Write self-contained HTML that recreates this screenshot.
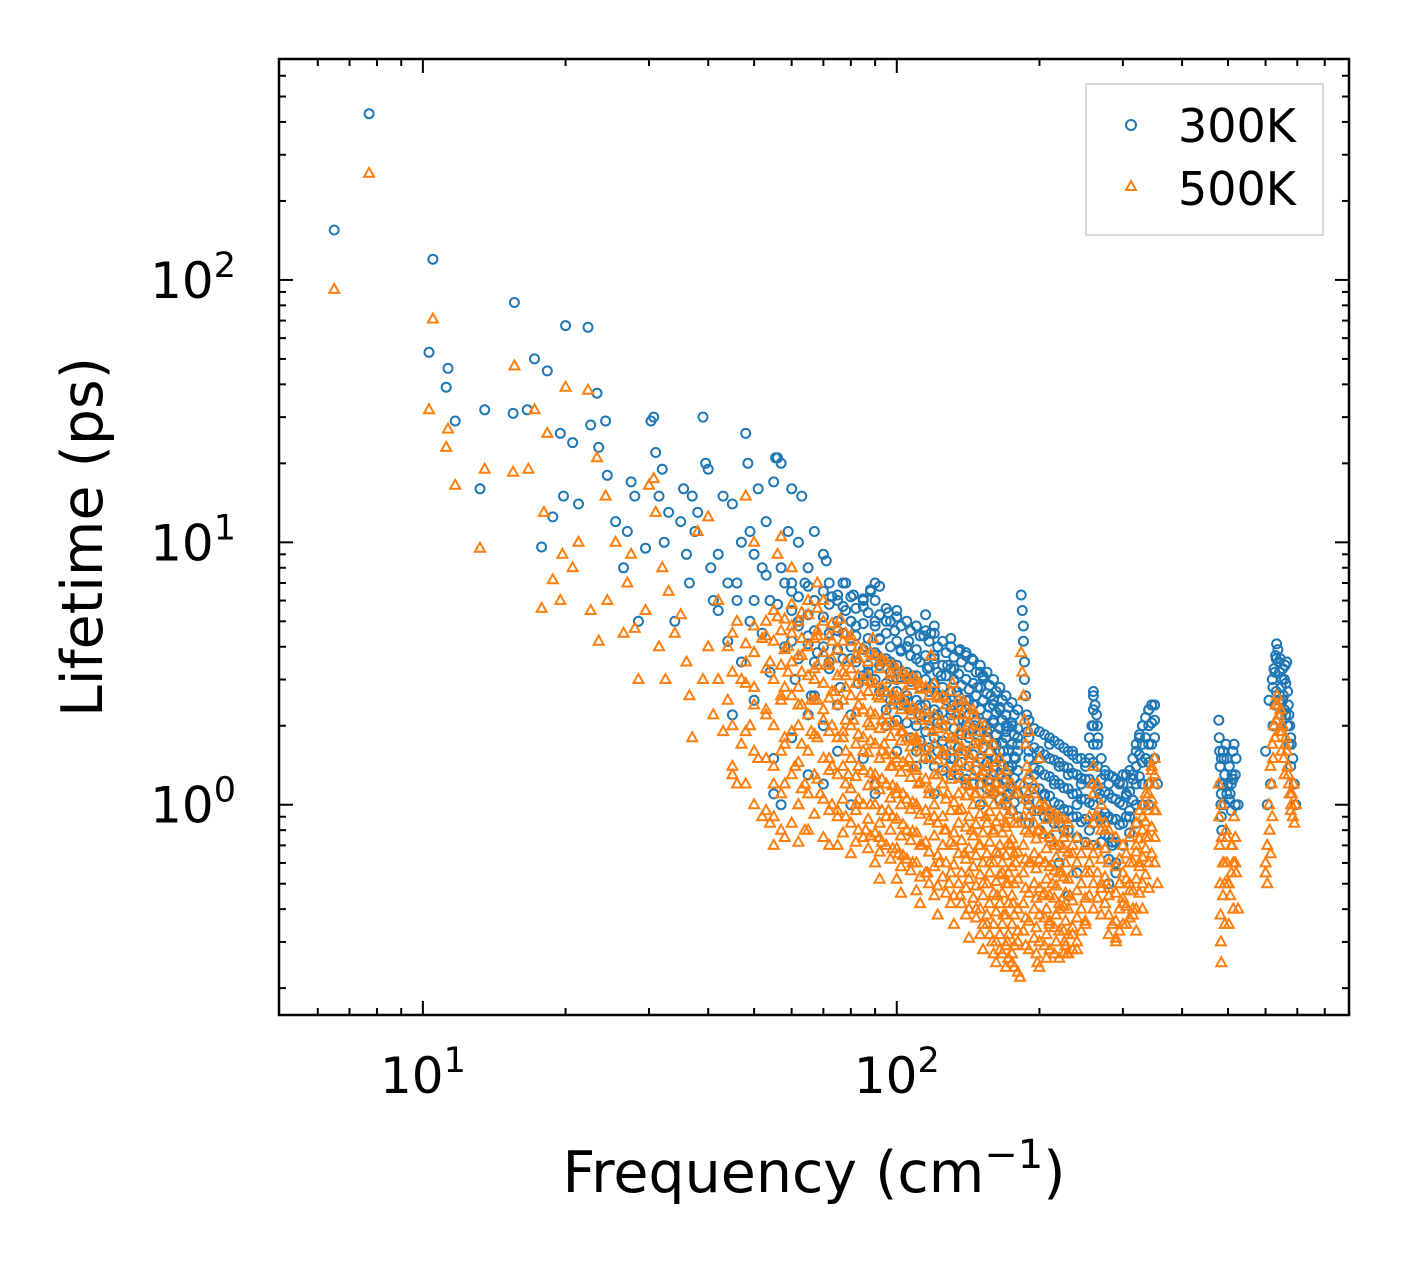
<!DOCTYPE html>
<html><head><meta charset="utf-8">
<style>html,body{margin:0;padding:0;background:#fff}svg{display:block}text{font-family:"DejaVu Sans","Liberation Sans",sans-serif}</style>
</head><body>
<svg id="chart" width="1408" height="1265" viewBox="0 0 1408 1265" xmlns="http://www.w3.org/2000/svg">
<rect width="1408" height="1265" fill="#fff"/>
<g id="marks300"></g>
<g id="marks500"></g>
<g id="axes"></g>
<rect x="279" y="59" width="1070" height="956" fill="none" stroke="#000" stroke-width="2.5"/>
<text x="102" y="537" font-size="57" text-anchor="middle" transform="rotate(-90 102 537)">Lifetime (ps)</text>
<text x="814" y="1192" font-size="57" text-anchor="middle">Frequency (cm<tspan dy="-24" font-size="40">−1</tspan><tspan dy="24">)</tspan></text>
<g>
<rect x="1086" y="84" width="237" height="151" fill="#fff" stroke="#ccc" stroke-width="1.5"/>
<circle cx="1131" cy="125" r="5" fill="none" stroke="#1f77b4" stroke-width="2"/>
<text x="1178" y="142" font-size="46">300K</text>
<polygon points="1131,181 1136,190 1126,190" fill="none" stroke="#ff7f0e" stroke-width="2"/>
<text x="1178" y="205" font-size="46">500K</text>
</g>
</svg>
<script>
const freq300 = [6.5,7.7,10.3,10.5,11.2,11.3,11.7,13.2,13.5,15.5,15.6,16.6,17.2,17.8,18.3,18.8,19.5,19.8,20,20.7,21.3,22.3,22.6,23.3,23.5,24.3,24.5,25.5,26.5,27,27.5,28,28.5,29.5,30.3,30.7,31,31.5,32,32.3,33,34,35,35.5,36,36.5,37,37.5,38,39,39.5,40,40.5,41,42,43,44,45,46,47,48,48.5,49,50,51,52,53,54,55,55.5,56,57,58,59,60,62,63,65,67,70,72,75,78,80,85,88,90,92,95,100,105,115,118,120,130,140,150,160,170,180,
42,44,46,47,49,50,52,53,54,56,57,58,60,61,62,64,65,66,67,68,70,71,72,73,75,76,77,78,80,81,82,83,85,86,87,88,90,91,92,94,96,97,99,100,102,104,106,108,110,112,114,116,118,120,122,124,126,128,130,132,134,136,138,140,142,144,146,148,150,152,155,158,160,162,165,168,170,172,175,178,180,182,
45,50,55,55,57,60,65,70,75,80,85,90,95,100,110,120,130,140,150,160,
190,195,200,205,210,215,220,225,230,235,240,245,250,255,258,260,262,264,266,268,270,275,280,285,290,295,300,305,310,315,320,325,330,335,340,345,350,355,
183,184,185,185,186,186,187,188,189,190,187,
478,479,480,481,482,483,485,490,495,500,505,510,515,520,525,
600,610,620,625,630,633,637,640,645,650,655,660,665,670,675,680,685,690,695,615,605,
200,220,240,260,280,230];
const life300 = [155,430,53,120,39,46,29,16,32,31,82,32,50,9.6,45,12.5,26,15,67,24,14,66,28,37,23,29,18,12,8,11,17,15,5,9.5,29,30,22,15,19,10,13,5,12,16,9,7,15,11,13,30,20,19,8,6,9,15,7,14,6,10,26,20,11,9,16,8,12,6,17,21,21,20,7,11,16,10,15,8,11,9,7,6,7,5,6,6.5,7,6.8,5,5.5,4,5.3,4.5,4.8,4.3,3.8,3.2,2.4,2,1.8,
5.5,4.2,7,3.5,5,6,4.5,7.5,3.2,5.8,8,4,6.5,3,5,7,4.4,2.6,6,3.8,5.2,8.5,3.3,6.2,4.6,2.8,7,5.5,3.6,6.3,4.8,2.9,5.7,4,3.2,6.6,5,3.7,4.3,2.7,5.4,3.5,4.6,3,3.9,2.5,4.2,3.1,3.6,2.4,4.4,3.3,2.8,3.7,2.2,3.1,2.6,3.4,2.3,3.3,2.7,3.9,2.1,3,2.5,3.6,2,2.8,2.3,3.1,1.9,2.6,2.1,1.7,2.3,1.6,1.9,1.4,2,1.5,1.7,1.2,
2.2,2.5,1.5,1.1,1.0,1.8,1.3,2,1.6,2.2,1.5,1.2,2,1.6,1.4,1.1,1.5,1.2,1.0,1.3,
1.6,1.3,1.5,1.1,1.7,1.2,1.4,0.9,1.3,1.6,1.0,1.2,1.4,0.8,2.0,2.7,2.4,2.2,1.8,1.1,0.9,1.3,1.2,0.7,0.55,1.2,1.3,1.1,0.9,1.3,1.6,1.8,2.0,1.5,2.3,2.4,2.4,1.2,
6.3,5.5,4.8,4.2,3.5,3,2.6,2.2,1.9,1.0,0.85,
2.1,1.8,1.6,1.4,1.2,1.0,0.8,1.5,1.7,1.2,1.1,1.3,1.7,1.5,1.0,
1.6,2.5,3.0,3.3,3.7,4.1,3.9,3.5,3.6,3.0,2.6,3.4,3.5,2.4,2.0,1.7,1.5,1.2,1.0,1.2,1.0,
0.8,0.6,0.55,0.7,0.5,0.45];
const groups300 = [
 [60,[7,5.5,4.2]],[65,[6.8,5.3,4.1,2.2]],[70,[6.5,5.2,4.0,1.2]],[75,[6.3,5.0,3.9,2.4]],[80,[6.2,5.0,4.0,1.0]],[85,[6.1,4.9,3.9,3.1]],
 [90,[6,4.8,3.8,3.0,1.1]],[95,[5.6,4.5,3.6,2.9,2.3]],[100,[5.2,4.2,3.4,2.7,2.1]],[105,[5.0,4.0,3.2,2.6,2.05]],[110,[4.8,3.9,3.1,2.5,2.0,1.6]],
 [115,[4.6,3.7,3.0,2.4,1.9,1.5]],[120,[4.5,3.6,2.9,2.3,1.8,1.4]],[125,[4.2,3.4,2.8,2.25,1.75,1.35]],[130,[4.0,3.3,2.7,2.2,1.7,1.3]],
 [135,[3.85,3.15,2.6,2.1,1.65,1.3]],[140,[3.7,3.0,2.5,2.0,1.6,1.25]],[145,[3.55,2.9,2.4,1.95,1.55,1.2]],[150,[3.4,2.8,2.3,1.9,1.5,1.2]],
 [155,[3.2,2.65,2.2,1.8,1.45,1.15]],[160,[3.0,2.5,2.05,1.7,1.4,1.1]],[165,[2.8,2.35,1.95,1.6,1.3,1.05]],[170,[2.6,2.2,1.8,1.5,1.25,1.0]],
 [175,[2.45,2.05,1.7,1.4,1.15,0.95]],[180,[2.3,1.95,1.6,1.35,1.1,0.9]],[190,[2.1,1.8,1.5,1.25,1.05,0.85]],[200,[1.9,1.6,1.35,1.15,0.95,0.8]],
 [210,[1.8,1.5,1.28,1.08,0.9,0.75]],[220,[1.7,1.45,1.2,1.0,0.85,0.7]],[230,[1.6,1.38,1.15,0.95,0.8]],[240,[1.5,1.3,1.1,0.9,0.75]],[250,[1.45,1.25,1.05,0.88,0.72]],
 [260,[2.6,2.3,2.0,1.7,1.45,1.2,1.0,0.85]],[270,[1.5,1.25,1.05,0.88,0.72]],[280,[1.3,1.1,0.9,0.75,0.62]],[290,[1.25,1.05,0.88,0.72,0.6]],[300,[1.2,1.0,0.85,0.7]],
 [310,[1.35,1.12,0.95,0.78]],[320,[1.7,1.4,1.2,1.0,0.85]],[330,[2.0,1.7,1.45,1.2,1.0]],[340,[2.3,2.0,1.7,1.45,1.2,1.0]],[350,[2.4,2.1,1.8,1.5]],
 [484,[1.5,1.1,0.9]],[488,[1.6,1.2]],[492,[1.3,1.0]],[497,[1.5,1.1]],[503,[1.4,1.05]],[508,[1.2,0.95]],[512,[1.6,1.25]],[518,[1.3,1.0]],
 [622,[2.8,2.0]],[628,[3.2,2.4]],[632,[3.6,2.7]],[642,[3.2,2.5]],[648,[2.8,2.2]],[652,[3.3,2.5]],[658,[3.0,2.3]],[662,[2.9,2.2]],[668,[2.7,2.0]],[672,[2.2,1.7]],[678,[1.8,1.4]]
];
const fill300 = [
 [62,[6.2,4.8,3.6]],[67,[6.0,4.6,3.5,2.6]],[72,[5.8,4.5,3.5]],[77,[5.7,4.5,3.6]],[82,[5.6,4.4,3.5]],[87,[5.4,4.3,3.4]],[92,[5.3,4.25,3.4,2.7]],
 [97,[5.0,4.0,3.2,2.5]],[102,[4.8,3.85,3.05,2.4]],[107,[4.6,3.7,2.95,2.3,1.8]],[112,[4.4,3.5,2.8,2.2,1.75]],[117,[4.2,3.35,2.7,2.1,1.65]],
 [122,[4.0,3.2,2.6,2.05,1.6]],[127,[3.8,3.1,2.5,2.0,1.55]],[132,[3.65,3.0,2.4,1.95,1.5]],[137,[3.5,2.85,2.3,1.85,1.45]],[142,[3.35,2.75,2.2,1.8,1.4]],
 [147,[3.2,2.6,2.1,1.72,1.35]],[152,[3.05,2.5,2.05,1.65,1.3]],[157,[2.85,2.35,1.95,1.58,1.25]],[162,[2.7,2.25,1.85,1.5,1.2]],[167,[2.5,2.1,1.72,1.42,1.15]],
 [172,[2.35,1.98,1.62,1.35,1.1]],[177,[2.2,1.85,1.52,1.26,1.02]],[195,[1.95,1.65,1.38,1.15,0.95]],[205,[1.85,1.55,1.3,1.08,0.9]],[215,[1.75,1.48,1.24,1.02,0.85]],
 [225,[1.65,1.4,1.16,0.96,0.8]],[235,[1.55,1.32,1.1,0.9]],[245,[1.5,1.26,1.05,0.86]],[255,[1.8,1.5,1.25,1.02]],[265,[2.0,1.7,1.4,1.15]],[275,[1.35,1.12,0.93,0.77]],
 [285,[1.28,1.06,0.88,0.72]],[295,[1.22,1.02,0.84]],[305,[1.3,1.08,0.9]],[315,[1.5,1.25,1.04]],[325,[1.85,1.55,1.28]],[335,[2.15,1.8,1.5]],[345,[2.4,2.05,1.7]]
];
const freq500 = [6.5,7.7,10.3,10.5,11.2,11.3,11.7,13.2,13.5,15.5,15.6,16.7,17.2,17.8,18,18.3,18.8,19.5,19.7,20,20.7,21.3,22.3,22.6,23.3,23.5,24.3,24.5,25.5,26.5,27,27.5,28,28.5,29.5,30,30.7,31,31.5,32,32.5,33,34,35,36,36.5,37,38,39,40,41,42,43,44,45,46,47,48,49,50,52,53,54,55,56,57,58,59,60,62,64,66,68,70,
40,42,44,46,47,48,50,51,52,53,54,55,56,57,58,59,60,61,62,63,64,65,66,67,68,69,70,71,72,73,74,75,76,77,78,79,80,81,82,83,84,85,86,87,88,89,90,91,92,93,94,95,96,97,98,99,100,101,102,104,105,106,107,108,110,111,112,113,114,115,116,117,118,119,120,121,122,123,124,125,126,127,128,129,130,131,132,133,134,135,136,137,138,139,140,141,142,143,144,145,146,147,148,149,150,152,153,154,155,156,157,158,159,160,162,163,164,165,166,167,168,170,171,172,174,175,176,178,180,182,
183,184,185,186,187,188,189,190,192,195,198,200,203,206,210,213,216,220,223,226,229,232,235,240,245,250,255,258,262,265,270,275,280,285,290,295,300,305,310,315,320,325,330,335,340,345,350,352,355,205,215,225,235,195,200,190,198,
478,479,480,481,482,483,484,490,495,500,505,510,515,520,525,
600,605,610,615,620,625,630,635,640,645,650,655,660,665,670,675,680,685,690,695,600];
const life500 = [92,255,32,71,23,27,16.5,9.5,19,18.5,47,19,32,5.6,13,26,7.2,6,9,39,8,10,38,5.5,21,4.2,15,6,10,4.5,7,9,4.7,3,5.5,16.5,17.5,13,4,8,3,6.5,4.5,5.3,3.5,2.6,1.8,11,3,12.5,2.2,6,1.9,4,1.4,1.2,3,15,2,10,0.9,5,0.85,0.7,9,10.5,0.75,4,8,1.0,0.8,2.5,7,6,
4,3,2.5,5,1.7,3.5,2.8,1.5,4.3,2.2,3.5,1.2,5.2,2.6,1.8,3.2,4.5,1.4,2.4,3.7,1.2,6,1.9,3,4.6,1.1,2.3,3.4,1.5,4.2,2.7,0.9,5.1,1.8,3.1,1.3,4.4,2.1,1,3.6,2.6,1.6,0.8,3.1,2,4.3,1.2,2.6,0.75,3.5,1.7,2.2,0.95,3,1.4,2.5,1.1,0.65,1.9,2.7,0.8,1.5,2.2,0.6,1.8,1.2,2.9,0.7,1.5,2.3,0.55,1.1,3.7,1.9,0.9,2.6,1.3,0.6,2.1,1.6,0.8,2.4,1.1,0.5,1.8,2.9,0.7,1.4,2.2,0.95,0.45,1.6,2.5,0.65,1.2,2,0.55,1.5,0.8,2.3,1.1,0.4,1.7,0.7,1.3,0.5,2,0.9,0.35,1.4,0.6,1.1,0.3,0.8,1.2,0.45,0.65,0.28,1,0.55,0.38,0.85,0.3,0.5,0.7,0.25,0.42,0.6,0.33,0.22,
3.8,3.2,2.6,2.1,1.7,1.4,1.1,0.9,0.6,0.5,0.8,0.3,0.45,0.6,0.35,0.5,0.7,0.4,0.55,0.3,0.27,0.45,0.32,0.28,0.5,0.35,0.6,1.2,0.9,0.7,0.5,0.8,0.45,0.35,0.3,0.5,0.42,0.35,0.5,0.4,0.7,0.6,0.9,0.75,1.1,1.4,1.3,0.95,0.5,1.0,0.9,0.75,0.65,1.2,1.5,1.9,0.25,
1.2,0.9,0.7,0.5,0.38,0.3,0.25,0.6,0.8,0.5,0.45,0.7,0.9,0.55,0.4,
0.6,0.5,1.0,1.4,1.7,2.0,2.4,2.6,2.2,2.3,1.9,1.5,1.7,1.6,1.3,1.1,1.0,0.9,0.85,1.0,0.55];
const groups500 = [
 [45,[4.5,3.2,2.0,1.3]],[48,[4.1,2.9,1.9,1.2]],[50,[4.8,3.8,2.4,1.6,1.0]],[53,[4.4,3.3,2.3,1.5,0.95]],[55,[5.5,4.2,3.0,2.0,1.4,0.9]],
 [58,[5.1,3.9,2.8,1.7,1.2]],[60,[5.8,4.8,3.5,2.6,1.9,1.3,0.85]],[63,[5.4,4.3,3.2,2.4,1.7,1.15]],[65,[5.3,4.0,3.1,2.2,1.6,1.1,0.8]],
 [68,[5.6,4.4,3.4,2.5,1.8,1.25]],[70,[5.0,3.8,2.9,2.1,1.5,1.05,0.75]],[73,[4.9,3.6,2.7,2.0,1.4,1.0]],[75,[4.7,3.9,3.1,2.4,1.8,1.3,0.95,0.7]],
 [78,[4.5,3.5,2.8,2.1,1.6,1.2,0.9]],[80,[4.2,3.3,2.6,2.0,1.5,1.15,0.85,0.65]],[83,[4.0,3.1,2.4,1.85,1.4,1.05,0.8]],[85,[3.9,3.0,2.3,1.8,1.35,1.0,0.75]],
 [88,[3.8,2.95,2.25,1.75,1.32,1.0,0.76]],[90,[3.7,2.9,2.2,1.7,1.3,1.0,0.78,0.6]],[93,[3.6,2.8,2.1,1.6,1.25,0.95,0.72]],[95,[3.5,2.7,2.0,1.55,1.2,0.9,0.7]],
 [98,[3.4,2.65,2.05,1.55,1.18,0.9,0.68]],[100,[3.3,2.6,2.0,1.5,1.15,0.88,0.68,0.52]],[103,[3.2,2.5,1.9,1.45,1.1,0.84,0.64]],[105,[3.1,2.4,1.8,1.4,1.05,0.8,0.62]],
 [108,[3.05,2.35,1.78,1.38,1.02,0.79,0.6]],[110,[3.0,2.3,1.75,1.35,1.0,0.78,0.6,0.47]],[115,[2.8,2.15,1.65,1.25,0.95,0.72,0.55]],[120,[2.9,2.2,1.7,1.3,1.0,0.76,0.58,0.45]],
 [125,[2.6,2.0,1.55,1.2,0.9,0.7,0.53]],[130,[2.7,2.1,1.6,1.25,0.95,0.72,0.55,0.42]],[135,[2.5,1.9,1.45,1.1,0.85,0.65,0.5]],[140,[2.4,1.85,1.4,1.08,0.82,0.62,0.48,0.38]],
 [145,[2.2,1.7,1.3,1.0,0.76,0.58,0.44]],[150,[2.0,1.55,1.2,0.92,0.7,0.54,0.4,0.32]],[155,[1.8,1.4,1.1,0.85,0.65,0.5,0.38]],[160,[1.7,1.3,1.0,0.78,0.6,0.46,0.35,0.27]],
 [165,[1.5,1.15,0.9,0.7,0.54,0.42,0.32]],[170,[1.35,1.05,0.82,0.64,0.5,0.38,0.29,0.24]],[175,[1.2,0.95,0.74,0.58,0.45,0.35,0.27]],[180,[1.1,0.85,0.66,0.52,0.4,0.3,0.23]],
 [185,[1.2,0.9,0.7,0.55,0.42,0.33]],[190,[1.3,1.0,0.78,0.6,0.46,0.36,0.28]],[195,[1.1,0.85,0.65,0.5,0.4,0.31]],[200,[1.0,0.8,0.62,0.48,0.38,0.3,0.24]],
 [205,[0.98,0.77,0.6,0.46,0.37,0.29]],[210,[0.95,0.75,0.58,0.45,0.36,0.28]],[215,[0.92,0.72,0.56,0.44,0.34,0.27]],[220,[0.9,0.7,0.55,0.42,0.33,0.26]],
 [225,[0.88,0.68,0.53,0.41,0.33,0.27]],[230,[0.85,0.66,0.52,0.4,0.32,0.27]],[240,[0.75,0.6,0.47,0.37,0.3]],[250,[0.7,0.55,0.44,0.36]],
 [260,[1.4,1.1,0.85,0.65,0.5,0.4]],[270,[1.0,0.8,0.62,0.48,0.38]],[280,[0.8,0.6,0.48,0.38,0.32]],[290,[0.75,0.58,0.46,0.36,0.31]],[300,[0.7,0.55,0.44,0.35]],
 [310,[0.75,0.6,0.47,0.37]],[320,[0.85,0.66,0.52,0.4,0.33]],[330,[1.0,0.8,0.63,0.5,0.4]],[340,[1.2,0.95,0.75,0.6,0.48]],[350,[1.5,1.2,0.95,0.75,0.6]],
 [485,[1.0,0.75]],[488,[0.45,0.6]],[492,[0.35,0.5]],[497,[0.6,0.75]],[502,[0.35,0.5]],[508,[0.55,0.7]],[513,[0.4,0.6]],[518,[0.75,0.6]],
 [612,[0.8]],[618,[1.2]],[622,[1.5]],[628,[1.8]],[632,[2.1]],[638,[2.4]],[642,[1.9]],[648,[1.6]],[652,[2.0]],[658,[1.3]],[662,[1.8]],[668,[1.4]],[672,[1.2]],[678,[0.95]],[682,[1.1]],[688,[1.2]],[605,[0.7]],[615,[0.65]],[620,[0.9]]
];
const fill500 = [
 [57,[4.6,3.4,2.5,1.6,1.1,0.8]],[62,[5.0,3.7,2.8,2.0,1.45,1.0,0.72]],[67,[4.3,3.3,2.5,1.85,1.3,0.92]],[72,[4.4,3.4,2.55,1.9,1.35,0.95,0.7]],
 [77,[4.2,3.2,2.5,1.9,1.4,1.05,0.78]],[82,[3.7,2.9,2.25,1.7,1.28,0.95,0.72]],[87,[3.5,2.7,2.05,1.58,1.18,0.88,0.68]],[92,[3.3,2.55,1.95,1.5,1.14,0.85,0.66,0.52]],
 [97,[3.15,2.4,1.82,1.4,1.06,0.8,0.62]],[102,[3.0,2.3,1.75,1.33,1.0,0.76,0.58,0.46]],[107,[2.85,2.2,1.66,1.27,0.96,0.73,0.56]],[112,[2.75,2.1,1.6,1.22,0.92,0.7,0.53,0.42]],
 [117,[2.6,2.0,1.52,1.15,0.87,0.66,0.5]],[122,[2.55,1.95,1.48,1.12,0.85,0.64,0.49,0.38]],[127,[2.4,1.82,1.38,1.05,0.8,0.6,0.46]],[132,[2.35,1.78,1.35,1.02,0.78,0.59,0.45,0.35]],
 [137,[2.2,1.66,1.26,0.96,0.73,0.55,0.42]],[142,[2.05,1.55,1.18,0.9,0.68,0.52,0.4,0.31]],[147,[1.9,1.45,1.1,0.84,0.64,0.49,0.37]],[152,[1.75,1.34,1.02,0.78,0.6,0.45,0.35,0.28]],
 [157,[1.6,1.22,0.94,0.72,0.55,0.42,0.32]],[162,[1.45,1.12,0.86,0.66,0.51,0.39,0.3,0.25]],[167,[1.3,1.0,0.78,0.6,0.46,0.35,0.27]],[172,[1.2,0.92,0.71,0.55,0.42,0.32,0.26]],
 [177,[1.1,0.85,0.65,0.5,0.38,0.29,0.24]],[187,[1.05,0.8,0.62,0.48,0.37,0.29]],[197,[0.95,0.74,0.57,0.44,0.34,0.27]],[207,[0.88,0.68,0.52,0.4,0.32,0.26]],
 [217,[0.82,0.63,0.49,0.38,0.3]],[227,[0.78,0.6,0.46,0.36,0.29]],[235,[0.7,0.55,0.43,0.34,0.28]],[245,[0.65,0.5,0.4,0.33]],[255,[0.9,0.7,0.55,0.45]],
 [265,[1.2,0.9,0.7,0.55,0.44]],[275,[0.85,0.68,0.53,0.42]],[295,[0.62,0.5,0.4,0.33]],[305,[0.65,0.52,0.41]],[315,[0.78,0.6,0.47,0.38]],
 [325,[0.95,0.74,0.58,0.46]],[335,[1.1,0.86,0.68,0.54]],[345,[1.35,1.05,0.82,0.65]]
];
const xMajorTicks = [10,100];
const xMajorLabels = ["1","2"];
const yMajorTicks = [1,10,100];
const yMajorLabels = ["0","1","2"];
const xMinorTicks = [6,7,8,9,20,30,40,50,60,70,80,90,200,300,400,500,600,700,800];
const yMinorTicks = [0.2,0.3,0.4,0.5,0.6,0.7,0.8,0.9,2,3,4,5,6,7,8,9,20,30,40,50,60,70,80,90,200,300,400,500,600];

groups300.concat(fill300).forEach(g=>g[1].forEach(v=>{freq300.push(g[0]);life300.push(v);}));
groups500.concat(fill500).forEach(g=>g[1].forEach(v=>{freq500.push(g[0]);life500.push(v);}));

const L=279,R=1349,T=59,B=1015;
const xMin=Math.log10(4.97), xMax=Math.log10(900);
const yMin=Math.log10(0.158), yMax=Math.log10(695);
function sx(v){return L+(Math.log10(v)-xMin)/(xMax-xMin)*(R-L);}
function sy(v){return B-(Math.log10(v)-yMin)/(yMax-yMin)*(B-T);}
const NS="http://www.w3.org/2000/svg";
function mk(tag,attrs){const e=document.createElementNS(NS,tag);for(const k in attrs)e.setAttribute(k,attrs[k]);return e;}

const g3=document.getElementById('marks300');
for(let i=0;i<freq300.length;i++){
  const c=mk('circle',{cx:sx(freq300[i]).toFixed(1),cy:sy(life300[i]).toFixed(1),r:4.5,fill:'none',stroke:'#1f77b4','stroke-width':2});
  
  
  g3.appendChild(c);
}
const g5=document.getElementById('marks500');
for(let i=0;i<freq500.length;i++){
  const x=sx(freq500[i]), y=sy(life500[i]);
  const p=mk('polygon',{points:`${x.toFixed(1)},${(y-5.5).toFixed(1)} ${(x+5).toFixed(1)},${(y+3.5).toFixed(1)} ${(x-5).toFixed(1)},${(y+3.5).toFixed(1)}`,fill:'none',stroke:'#ff7f0e','stroke-width':2});
  
  
  g5.appendChild(p);
}
const ax=document.getElementById('axes');
function tick(x1,y1,x2,y2,name){
  const l=mk('line',{x1,y1,x2,y2,stroke:'#000','stroke-width':2});
  
  
  ax.appendChild(l);
}
xMajorTicks.forEach((v,i)=>{const x=sx(v);tick(x,B,x,B-14,'x-major-tick');tick(x,T,x,T+14,'x-major-tick');
  const t=mk('text',{x:x,y:1093,'font-size':50,'text-anchor':'middle'});
  t.innerHTML='10<tspan dy="-21" font-size="35">'+xMajorLabels[i]+'</tspan>';
  
  
  ax.appendChild(t);});
xMinorTicks.forEach(v=>{const x=sx(v);tick(x,B,x,B-7,'x-minor-tick');tick(x,T,x,T+7,'x-minor-tick');});
yMajorTicks.forEach((v,i)=>{const y=sy(v);tick(L,y,L+14,y,'y-major-tick');tick(R,y,R-14,y,'y-major-tick');
  const t=mk('text',{x:236,y:y+18,'font-size':50,'text-anchor':'end'});
  t.innerHTML='10<tspan dy="-21" font-size="35">'+yMajorLabels[i]+'</tspan>';
  
  
  ax.appendChild(t);});
yMinorTicks.forEach(v=>{const y=sy(v);tick(L,y,L+7,y,'y-minor-tick');tick(R,y,R-7,y,'y-minor-tick');});
</script>
</body></html>
